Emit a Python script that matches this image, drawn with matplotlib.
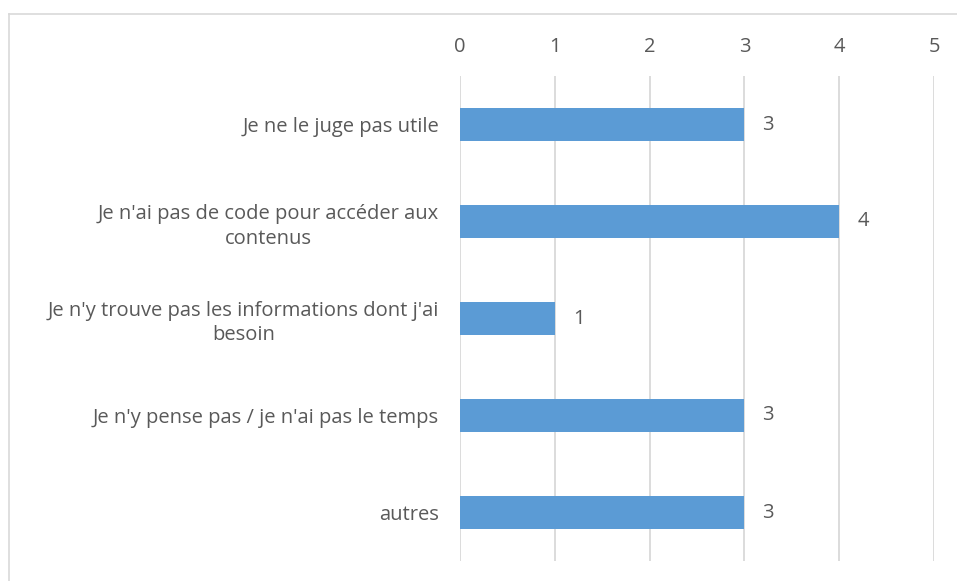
import matplotlib.pyplot as plt
from matplotlib.lines import Line2D

categories = [
    "Je ne le juge pas utile",
    "Je n'ai pas de code pour accéder aux\ncontenus",
    "Je n'y trouve pas les informations dont j'ai\nbesoin",
    "Je n'y pense pas / je n'ai pas le temps",
    "autres",
]
values = [3, 4, 1, 3, 3]
ticks = [0, 1, 2, 3, 4, 5]

plt.rcParams['font.family'] = ['Open Sans', 'DejaVu Sans']
text_color = '#595959'
fs = 14.5

fig = plt.figure(figsize=(9.57, 5.81), dpi=100)
ax = fig.add_axes([460 / 957, 1 - 561 / 581, 474 / 957, 485 / 581])

pos = list(range(len(categories)))
ax.barh(pos, values, height=0.35, color='#5B9BD5', zorder=3)
for p, v in zip(pos, values):
    ax.text(v + 0.19, p, str(v), va='center', ha='left', fontsize=fs, color=text_color)

ax.set_xlim(0, 5)
ax.set_ylim(len(categories) - 0.5, -0.5)
ax.set_xticks(ticks)
ax.xaxis.tick_top()
ax.set_yticks(pos)
ax.set_yticklabels(categories, multialignment='center', linespacing=1.3)
ax.tick_params(axis='x', length=0, pad=14, labelsize=fs, labelcolor=text_color)
ax.tick_params(axis='y', length=0, pad=15, labelsize=fs, labelcolor=text_color)
ax.grid(axis='x', color='#D9D9D9', linewidth=1.3, zorder=0)
for s in ax.spines.values():
    s.set_visible(False)

# outer chart border (top and left visible)
fig.add_artist(Line2D([9 / 957, 1], [1 - 14 / 581, 1 - 14 / 581], color='#D9D9D9', lw=1.2))
fig.add_artist(Line2D([9 / 957, 9 / 957], [0, 1 - 14 / 581], color='#D9D9D9', lw=1.2))

fig.savefig('out.png', dpi=100)
